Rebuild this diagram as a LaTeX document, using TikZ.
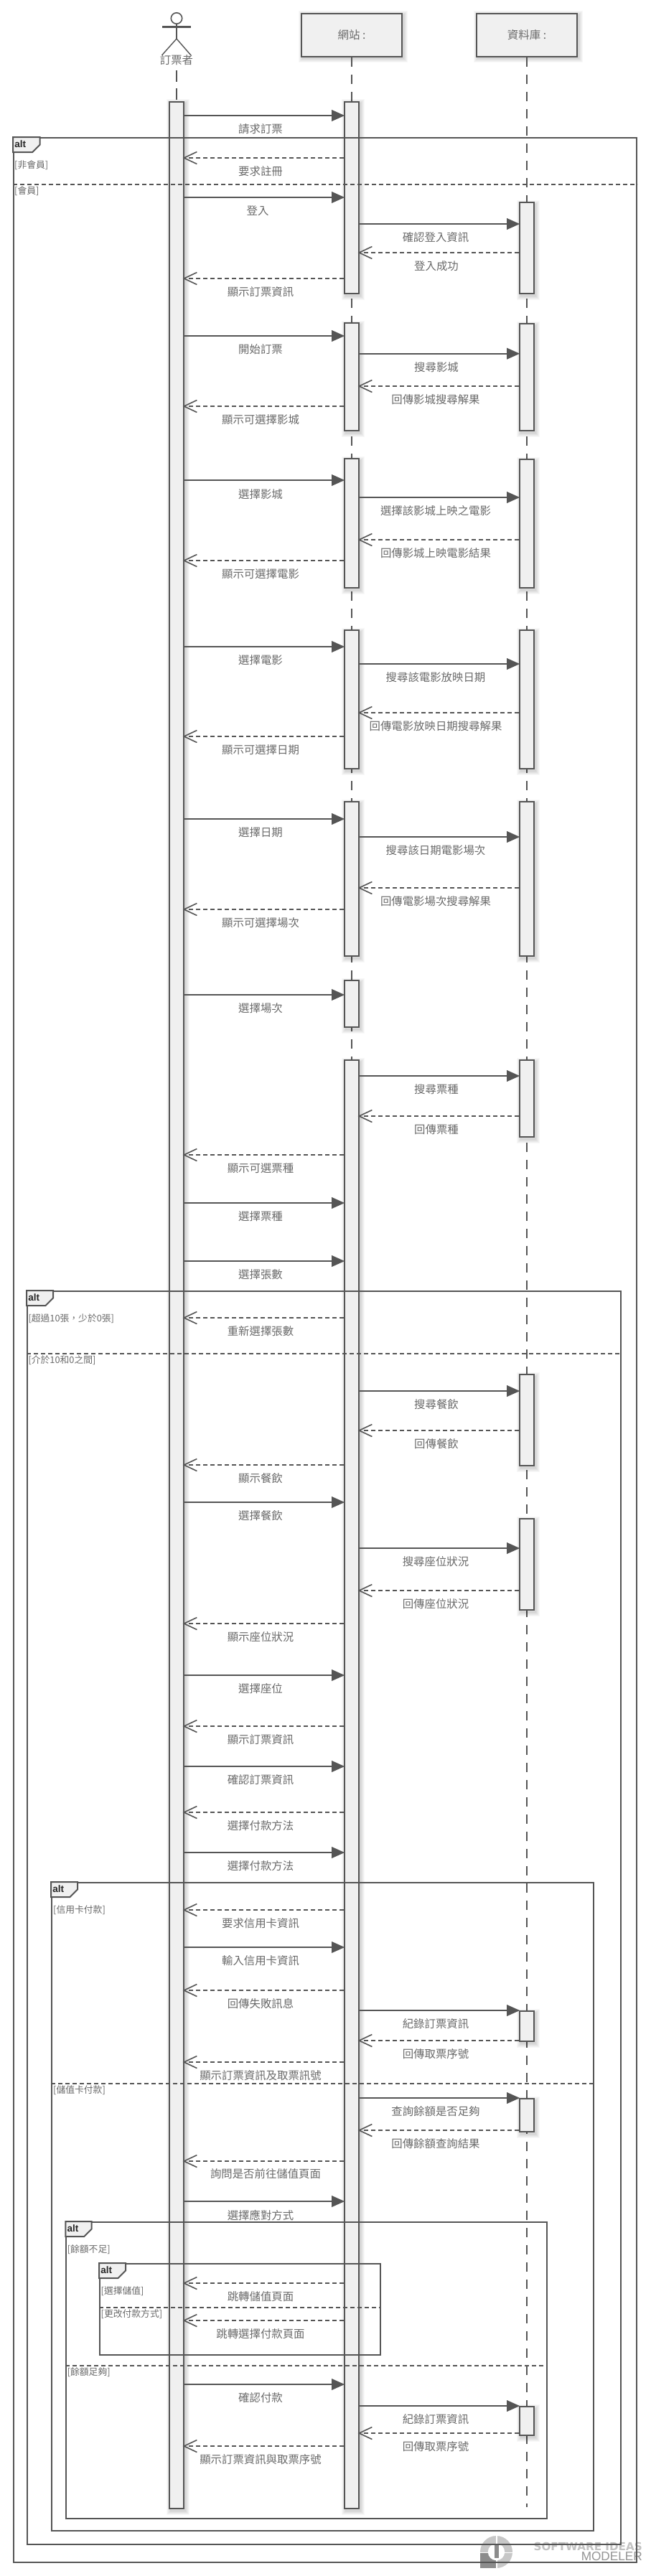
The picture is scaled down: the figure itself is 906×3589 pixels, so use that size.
\documentclass[tikz,border=0pt]{standalone}
\usepackage{fontspec}
\setmainfont{Noto Sans CJK TC}
\newfontfamily\altfont{Liberation Sans}
\newfontfamily\logofont{DejaVu Sans}
\newfontfamily\logofontb{Liberation Sans}
\usetikzlibrary{arrows.meta,calc}
\definecolor{ln}{HTML}{555555}
\definecolor{fl}{HTML}{F0F0F0}
\definecolor{tx}{HTML}{6A6A6A}
\newcounter{lbl}
\tikzset{
  softlayer/.style={preaction={draw=black,draw opacity=.028,fill=none,line width=#1,transform canvas={xshift=1.8pt,yshift=-2.5pt}}},
  softshadow/.style={softlayer=12pt,softlayer=10pt,softlayer=8pt,softlayer=6pt,softlayer=4pt,softlayer=2pt},
  barbox/.style={draw=ln,fill=fl,line width=2pt,inner sep=0pt,minimum width=20pt,anchor=north,softshadow},
  headbox/.style={draw=ln,fill=fl,line width=2pt,inner sep=0pt,minimum width=140pt,minimum height=60pt,anchor=north,text=tx,font=\fontsize{15.5}{18}\selectfont,softshadow},
  lifeline/.style={draw=ln,line width=1.4pt,dash pattern=on 13pt off 11pt},
  sync/.style={draw=ln,line width=2pt,shorten >=-1.2pt,-{Triangle[length=18pt,width=15.5pt,fill=ln]}},
  reply/.style={draw=ln,line width=2pt,dash pattern=on 6pt off 4pt,shorten >=-2.5pt,-{Straight Barb[length=18pt,width=17pt,line width=1.6pt]}},
  msglabel/.style={text=tx,inner sep=0pt,font=\fontsize{15.4}{18}\selectfont},
  guardlabel/.style={text=tx,inner sep=0pt,anchor=west,font=\fontsize{12.8}{15}\selectfont},
  altbox/.style={draw=ln,line width=2pt,inner sep=0pt,anchor=north west},
  alttag/.style={draw=ln,fill=fl,line width=2pt,line join=miter},
  alttext/.style={text=black!85,inner sep=0pt,anchor=west,font=\altfont\bfseries\fontsize{13.5}{15}\selectfont},
  divider/.style={draw=ln,line width=2pt,dash pattern=on 6pt off 4pt},
  stick/.style={draw=ln,line width=1.4pt},
}
\newcommand{\lifebar}[4]{\pgfmathsetmacro{\barh}{#4-#3}\node[barbox,minimum height=\barh pt] (#1) at (#2,#3) {};}
\newcommand{\msg}[7]{\draw[#1] (#2 |- 0,#4) -- (#3 |- 0,#4);\stepcounter{lbl}\node[msglabel] (lab\arabic{lbl}) at (#5,#6) {#7};}
\newcommand{\guard}[3]{\stepcounter{lbl}\node[guardlabel] (lab\arabic{lbl}) at (#1,#2) {#3};}
\newcommand{\altframe}[6]{%
  \pgfmathsetmacro{\fw}{#4-#2}\pgfmathsetmacro{\fh}{#5-#3}%
  \node[altbox,minimum width=\fw pt,minimum height=\fh pt] (#1) at (#2,#3) {};%
  \pgfmathsetmacro{\ya}{#3+10.5}\pgfmathsetmacro{\yb}{#3+21}\pgfmathsetmacro{\xb}{#6-10.5}%
  \draw[alttag] (#2,#3) -- (#6,#3) -- (#6,\ya) -- (\xb,\yb) -- (#2,\yb) -- cycle;%
  \pgfmathsetmacro{\xt}{#2+2.2}\pgfmathsetmacro{\yt}{#3+9.5}%
  \node[alttext] (#1tag) at (\xt,\yt) {alt};}
\newcommand{\altdiv}[2]{\draw[divider] (#1.west |- 0,#2) -- (#1.east |- 0,#2);}
\def\LA{363}
\def\LB{607}
\begin{document}
\begin{tikzpicture}[x=1pt,y=-1pt]
\useasboundingbox (0,0) rectangle (906,3589);
\fill[white] (0,0) rectangle (906,3589);
% logo
\fill[black!22] (691.5,3555.5) circle (22.5);
\fill[black!45] (669,3557) rectangle (691,3578);
\fill[white] (691.5,3555.5) circle (11.7);
\fill[white] (691,3533) rectangle (692.8,3578);
\fill[white] (669,3555.5) rectangle (714,3557);
\fill[black!45] (688.5,3546) rectangle (695,3564);
\node[text=black!24,inner sep=0pt,anchor=east,font=\logofont\bfseries\fontsize{15.2}{17}\selectfont] (logoa) at (895,3548) {SOFTWARE IDEAS};
\node[text=black!42,inner sep=0pt,anchor=east,font=\logofontb\fontsize{17.2}{19}\selectfont] (logob) at (895,3562) {MODELER};
% heads
\node[headbox] (nB) at (490,18) {網站 :};
\node[headbox] (nC) at (734,18) {資料庫 :};
\coordinate (endB) at (490,3493);
\coordinate (endC) at (734,3493);
\draw[lifeline] (nB.south) -- (endB);
\draw[lifeline] (nC.south) -- (endC);
% actor
\node[circle,draw=ln,line width=1.6pt,inner sep=0pt,minimum size=15.4pt] (head) at (246,25.5) {};
\coordinate (neck) at (246,54);
\coordinate (armL) at (226,37.5);
\coordinate (armR) at (265.5,37.5);
\coordinate (legL) at (225.5,77);
\coordinate (legR) at (266,77);
\draw[stick] (head.south) -- (neck);
\draw[draw=ln,line width=2.2pt] (armL) -- (armR);
\draw[stick] (legL) -- (neck) -- (legR);
\node[msglabel] (actorlabel) at (246,83.5) {訂票者};
\coordinate (actorline) at (246,92);
% bars
\lifebar{Aa}{246}{141}{3494}
\draw[lifeline,dash pattern=on 16pt off 9pt,dash phase=19pt] (actorline) -- (Aa.north);
\lifebar{Ba}{490}{141}{408}
\lifebar{Bb}{490}{449}{599}
\lifebar{Bc}{490}{638}{818}
\lifebar{Bd}{490}{877}{1070}
\lifebar{Be}{490}{1116}{1331}
\lifebar{Bf}{490}{1365}{1430}
\lifebar{Bg}{490}{1476}{3494}
\lifebar{Ca}{734}{281}{408}
\lifebar{Cb}{734}{450}{599}
\lifebar{Cc}{734}{639}{818}
\lifebar{Cd}{734}{877}{1070}
\lifebar{Ce}{734}{1116}{1331}
\lifebar{Cf}{734}{1476}{1583}
\lifebar{Cg}{734}{1914}{2041}
\lifebar{Ch}{734}{2115}{2242}
\lifebar{Ci}{734}{2801}{2843}
\lifebar{Cj}{734}{2923}{2969}
\lifebar{Ck}{734}{3352}{3392}
% frames
\altframe{fa}{18}{191}{886}{3569}{55.7}
\altframe{fb}{37}{1798}{864}{3544}{74}
\altframe{fc}{71}{2622}{825.5}{3525}{108}
\altframe{fd}{91.3}{3095}{761}{3508}{127.7}
\altframe{fe}{138}{3153}{529}{3280}{175}
\altdiv{fa}{257}
\altdiv{fb}{1886}
\altdiv{fc}{2903}
\altdiv{fd}{3296}
\altdiv{fe}{3215}
\guard{20}{230}{[非會員]}
\guard{20}{266}{[會員]}
\guard{39.3}{1837}{[超過10張，少於0張]}
\guard{39.3}{1895}{[介於10和0之間]}
\guard{74}{2661}{[信用卡付款]}
\guard{74}{2912}{[儲值卡付款]}
\guard{93.6}{3134}{[餘額不足]}
\guard{93.6}{3305}{[餘額足夠]}
\guard{140.5}{3192}{[選擇儲值]}
\guard{140.5}{3224}{[更改付款方式]}
% messages
\msg{sync}{Aa.east}{Ba.west}{161}{\LA}{180}{請求訂票}
\msg{reply}{Ba.west}{Aa.east}{220}{\LA}{239}{要求註冊}
\msg{sync}{Aa.east}{Ba.west}{275}{359}{294}{登入}
\msg{sync}{Ba.east}{Ca.west}{312}{\LB}{331}{確認登入資訊}
\msg{reply}{Ca.west}{Ba.east}{352}{608}{371}{登入成功}
\msg{reply}{Ba.west}{Aa.east}{388}{\LA}{407}{顯示訂票資訊}
\msg{sync}{Aa.east}{Bb.west}{468}{\LA}{487}{開始訂票}
\msg{sync}{Bb.east}{Cb.west}{492.7}{608}{512}{搜尋影城}
\msg{reply}{Cb.west}{Bb.east}{538}{\LB}{557}{回傳影城搜尋解果}
\msg{reply}{Bb.west}{Aa.east}{566}{\LA}{585}{顯示可選擇影城}
\msg{sync}{Aa.east}{Bc.west}{669}{\LA}{688.3}{選擇影城}
\msg{sync}{Bc.east}{Cc.west}{693}{\LB}{712}{選擇該影城上映之電影}
\msg{reply}{Cc.west}{Bc.east}{752}{\LB}{771}{回傳影城上映電影結果}
\msg{reply}{Bc.west}{Aa.east}{781}{\LA}{800}{顯示可選擇電影}
\msg{sync}{Aa.east}{Bd.west}{901}{\LA}{920}{選擇電影}
\msg{sync}{Bd.east}{Cd.west}{925}{\LB}{944}{搜尋該電影放映日期}
\msg{reply}{Cd.west}{Bd.east}{993}{\LB}{1012}{回傳電影放映日期搜尋解果}
\msg{reply}{Bd.west}{Aa.east}{1026}{\LA}{1045}{顯示可選擇日期}
\msg{sync}{Aa.east}{Be.west}{1141}{\LA}{1160}{選擇日期}
\msg{sync}{Be.east}{Ce.west}{1166}{\LB}{1185}{搜尋該日期電影場次}
\msg{reply}{Ce.west}{Be.east}{1237}{\LB}{1256}{回傳電影場次搜尋解果}
\msg{reply}{Be.west}{Aa.east}{1267}{\LA}{1286}{顯示可選擇場次}
\msg{sync}{Aa.east}{Bf.west}{1386}{\LA}{1405}{選擇場次}
\msg{sync}{Bg.east}{Cf.west}{1499}{608}{1518}{搜尋票種}
\msg{reply}{Cf.west}{Bg.east}{1555}{608}{1574}{回傳票種}
\msg{reply}{Bg.west}{Aa.east}{1609}{\LA}{1628}{顯示可選票種}
\msg{sync}{Aa.east}{Bg.west}{1676}{\LA}{1695}{選擇票種}
\msg{sync}{Aa.east}{Bg.west}{1757}{\LA}{1776}{選擇張數}
\msg{reply}{Bg.west}{Aa.east}{1836}{\LA}{1855}{重新選擇張數}
\msg{sync}{Bg.east}{Cg.west}{1938}{608}{1957}{搜尋餐飲}
\msg{reply}{Cg.west}{Bg.east}{1993}{608}{2012}{回傳餐飲}
\msg{reply}{Bg.west}{Aa.east}{2041}{\LA}{2060}{顯示餐飲}
\msg{sync}{Aa.east}{Bg.west}{2093}{\LA}{2112}{選擇餐飲}
\msg{sync}{Bg.east}{Ch.west}{2157}{\LB}{2176}{搜尋座位狀況}
\msg{reply}{Ch.west}{Bg.east}{2216}{\LB}{2235}{回傳座位狀況}
\msg{reply}{Bg.west}{Aa.east}{2262}{\LA}{2281}{顯示座位狀況}
\msg{sync}{Aa.east}{Bg.west}{2334}{\LA}{2353}{選擇座位}
\msg{reply}{Bg.west}{Aa.east}{2405}{\LA}{2424}{顯示訂票資訊}
\msg{sync}{Aa.east}{Bg.west}{2461}{\LA}{2480}{確認訂票資訊}
\msg{reply}{Bg.west}{Aa.east}{2525}{\LA}{2544}{選擇付款方法}
\msg{sync}{Aa.east}{Bg.west}{2581}{\LA}{2600}{選擇付款方法}
\msg{reply}{Bg.west}{Aa.east}{2661}{\LA}{2680}{要求信用卡資訊}
\msg{sync}{Aa.east}{Bg.west}{2713}{\LA}{2732}{輸入信用卡資訊}
\msg{reply}{Bg.west}{Aa.east}{2773}{\LA}{2792}{回傳失敗訊息}
\msg{sync}{Bg.east}{Ci.west}{2801}{\LB}{2820}{紀錄訂票資訊}
\msg{reply}{Ci.west}{Bg.east}{2843}{\LB}{2862}{回傳取票序號}
\msg{reply}{Bg.west}{Aa.east}{2873}{\LA}{2892}{顯示訂票資訊及取票訊號}
\msg{sync}{Bg.east}{Cj.west}{2923}{\LB}{2942}{查詢餘額是否足夠}
\msg{reply}{Cj.west}{Bg.east}{2968}{\LB}{2987}{回傳餘額查詢結果}
\msg{reply}{Bg.west}{Aa.east}{3011}{370}{3029}{詢問是否前往儲值頁面}
\msg{sync}{Aa.east}{Bg.west}{3067}{\LA}{3086}{選擇應對方式}
\msg{reply}{Bg.west}{Aa.east}{3181}{\LA}{3200}{跳轉儲值頁面}
\msg{reply}{Bg.west}{Aa.east}{3233}{\LA}{3252}{跳轉選擇付款頁面}
\msg{sync}{Aa.east}{Bg.west}{3322}{\LA}{3341}{確認付款}
\msg{sync}{Bg.east}{Ck.west}{3352}{\LB}{3371}{紀錄訂票資訊}
\msg{reply}{Ck.west}{Bg.east}{3390}{\LB}{3409}{回傳取票序號}
\msg{reply}{Bg.west}{Aa.east}{3408}{\LA}{3427}{顯示訂票資訊與取票序號}
\end{tikzpicture}
\end{document}
